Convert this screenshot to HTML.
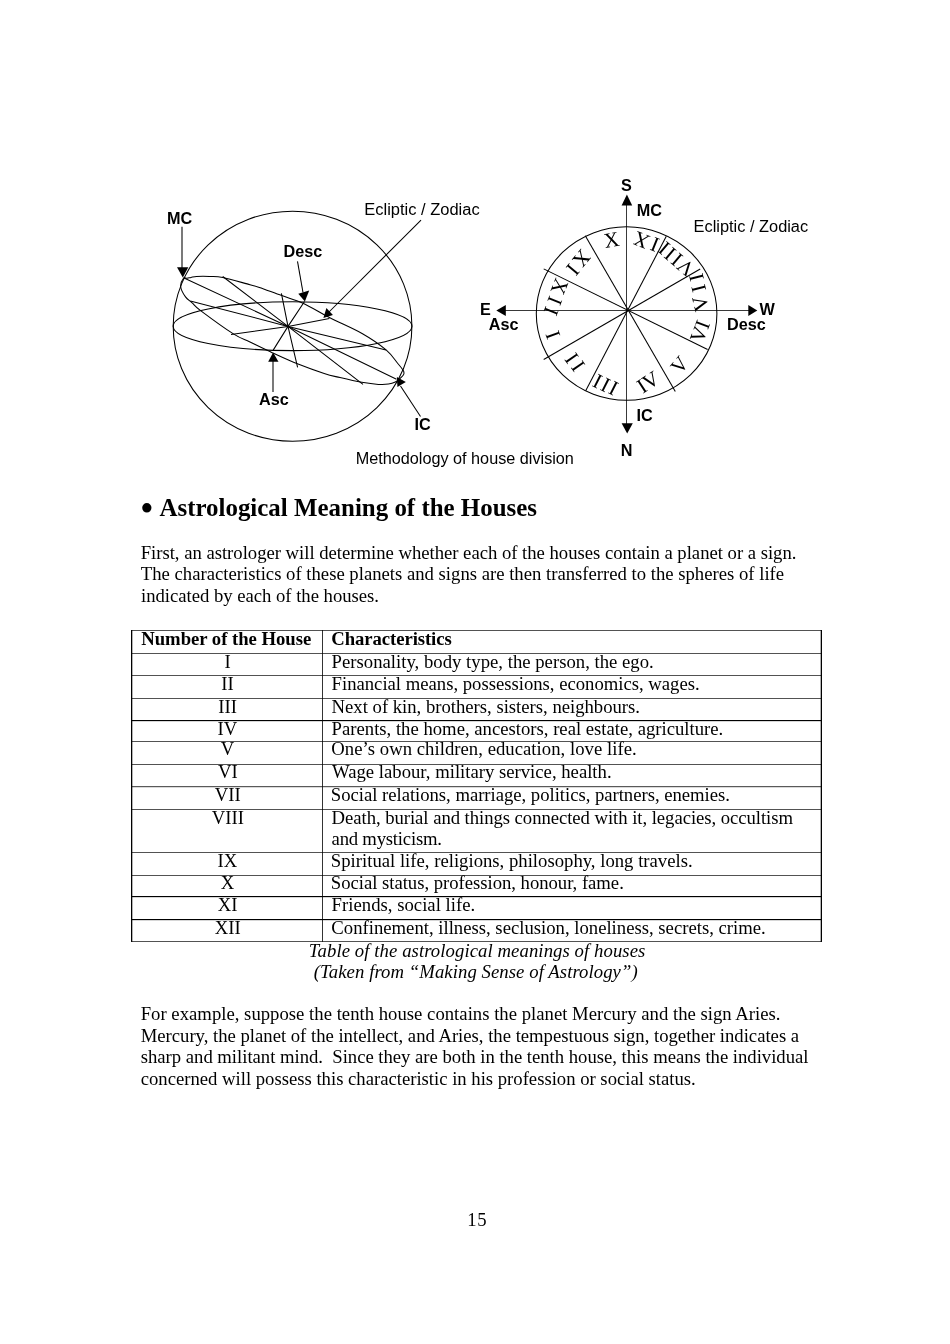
<!DOCTYPE html>
<html lang="en"><head><meta charset="utf-8"><title>Astrological Meaning of the Houses</title>
<style>
html,body{margin:0;padding:0;background:#fff;}
body{width:950px;height:1344px;position:relative;overflow:hidden;will-change:transform;font-family:"Liberation Serif","Times New Roman",serif;color:#000;}
.l{position:absolute;white-space:pre;font-size:18.69px;line-height:22px;height:22px;margin:0;}
.h{position:absolute;white-space:pre;font-weight:bold;font-size:24.9px;line-height:30px;height:30px;margin:0;}
.bu{position:absolute;white-space:pre;font-size:39px;line-height:30px;height:30px;}
.b{font-weight:bold;}.i{font-style:italic;}
.c{text-align:center;}
svg{position:absolute;left:0;top:0;}
svg text{font-family:"Liberation Sans",Arial,sans-serif;fill:#000;}
svg .r{font-family:"Liberation Serif","Times New Roman",serif;font-size:21px;text-anchor:middle;}
svg .bd{font-weight:bold;}
</style></head><body>
<svg width="950" height="480" viewBox="0 0 950 480">
<g fill="none" stroke="#000" stroke-width="1.05">
<ellipse cx="292.55" cy="326.2" rx="119.35" ry="115.05"/>
<ellipse cx="292.55" cy="326.2" rx="119.35" ry="24.4"/>
<path d="M183.5 278.2C184.6 276.8 185.8 278.3 187.0 278.2C188.2 278.1 189.4 277.7 191.0 277.4C192.6 277.1 194.5 276.6 196.5 276.4C198.5 276.2 200.8 276.2 203.0 276.2C205.2 276.2 206.7 276.3 210.0 276.5C213.3 276.7 216.1 276.1 222.8 277.5C229.5 278.9 243.9 283.1 250.0 284.7C256.1 286.3 254.1 285.6 259.4 287.4C264.7 289.2 274.4 293.0 281.7 295.6C289.0 298.2 295.1 299.6 303.0 303.2C310.9 306.8 319.5 312.4 329.4 317.5C339.3 322.6 353.1 328.3 362.5 333.7C371.9 339.1 380.2 344.9 386.1 349.9C392.0 354.9 394.9 360.1 397.8 363.5C400.7 366.9 402.3 368.8 403.3 370.6C404.3 372.4 404.2 373.1 403.7 374.4C403.2 375.7 401.7 376.9 400.3 378.2C398.9 379.5 397.3 381.0 395.3 382.0C393.3 383.0 391.3 383.7 388.5 384.1C385.7 384.5 382.8 384.7 378.4 384.4C373.9 384.1 368.2 383.4 361.8 382.3C355.4 381.2 346.3 379.1 340.0 377.6C333.7 376.1 331.3 375.8 324.2 373.5C317.1 371.2 306.0 367.2 297.4 363.8C288.8 360.4 280.6 356.5 272.7 352.9C264.8 349.3 256.6 345.2 250.0 342.0C243.4 338.8 241.6 339.1 233.4 333.9C225.2 328.7 207.4 315.7 200.6 310.6C193.8 305.5 194.9 305.4 192.4 303.1C189.9 300.8 187.4 299.6 185.5 296.9C183.6 294.2 181.0 289.8 180.7 286.7C180.4 283.6 182.4 279.6 183.5 278.2Z"/>
<path d="M183.5 277.8 L288.0 326.4 L396.5 379.3"/>
<path d="M222.7 276.5 L288.0 326.4 L363.0 384.4"/>
<path d="M190.3 301.0 L288.0 326.4 L386.1 349.9"/>
<path d="M231.0 334.5 L288.0 326.4 L329.4 318.4"/>
<path d="M272.9 350.6 L288.0 326.4 L304.5 301.5"/>
<path d="M281.4 293.4 L288.0 326.4 L297.6 367.3"/>
<path d="M182.0 226.8V268"/>
<path d="M297.5 261.3L303 292.5"/>
<path d="M273.0 391.9V361"/>
<path d="M421 220.1L329 312"/>
<path d="M420.5 416.5L400.5 386"/>
<ellipse cx="626.6" cy="313.55" rx="90.3" ry="86.7"/>
<path d="M505 310.5H749" stroke-width="0.78"/>
<path d="M626.5 205V424" stroke-width="0.78"/>
<path d="M585.3 235.8 L675.3 391.6"/>
<path d="M543.7 268.9 L707.6 349.5"/>
<path d="M666.3 236.2 L585.7 390.7"/>
<path d="M700.2 269.0 L543.7 359.5"/>
</g>
<g fill="#000" stroke="none">
<path d="M177.0 267.3 L188.3 267.3 L182.8 277.6 Z"/>
<path d="M298.3 293.7 L309.2 290.6 L304.9 301.5 Z"/>
<path d="M268.2 361.8 L278.5 361.8 L273.1 352.4 Z"/>
<path d="M323.4 318.0 L326.4 307.9 L332.9 314.9 Z"/>
<path d="M396.9 376.9 L405.8 382.0 L397.4 387.0 Z"/>
<path d="M621.6 205.4 L632.2 205.4 L626.9 194.5 Z"/>
<path d="M621.6 423.3 L632.8 423.3 L627.2 433.6 Z"/>
<path d="M505.8 305.0 L505.8 316.0 L496.3 310.5 Z"/>
<path d="M748.3 305.0 L748.3 316.0 L757.3 310.5 Z"/>
</g>
<text transform="translate(167.00 223.9) scale(1.040 1)" font-size="15.6" class="bd">MC</text>
<text transform="translate(283.54 256.9) scale(1.040 1)" font-size="15.6" class="bd">Desc</text>
<text transform="translate(259.08 404.8) scale(1.040 1)" font-size="15.6" class="bd">Asc</text>
<text transform="translate(414.58 429.9) scale(1.040 1)" font-size="15.6" class="bd">IC</text>
<text transform="translate(364.23 214.9) scale(1.057 1)" font-size="15.6">Ecliptic / Zodiac</text>
<text transform="translate(355.65 464.1) scale(1.041 1)" font-size="15.6">Methodology of house division</text>
<text transform="translate(620.89 190.7) scale(1.040 1)" font-size="15.6" class="bd">S</text>
<text transform="translate(636.85 215.5) scale(1.040 1)" font-size="15.6" class="bd">MC</text>
<text transform="translate(693.53 232.4) scale(1.050 1)" font-size="15.6">Ecliptic / Zodiac</text>
<text transform="translate(479.98 314.8) scale(1.040 1)" font-size="15.6" class="bd">E</text>
<text transform="translate(488.78 329.8) scale(1.040 1)" font-size="15.6" class="bd">Asc</text>
<text transform="translate(759.61 314.7) scale(1.040 1)" font-size="15.6" class="bd">W</text>
<text transform="translate(727.04 329.8) scale(1.040 1)" font-size="15.6" class="bd">Desc</text>
<text transform="translate(636.58 420.8) scale(1.040 1)" font-size="15.6" class="bd">IC</text>
<text transform="translate(620.63 455.6) scale(1.040 1)" font-size="15.6" class="bd">N</text>
<text class="r" transform="translate(553.0 335.0) rotate(70)" x="0.0" y="7.0">I</text>
<text class="r" transform="translate(571.8 358.1) rotate(55)" x="0.0 10.2" y="7.0 6.2">II</text>
<text class="r" transform="translate(597.5 381.2) rotate(27)" x="0.0 8.9 17.5" y="7.0 6.5 5.8">III</text>
<text class="r" transform="translate(641.8 386.3) rotate(-33)" x="0.0 10.8" y="7.0 6.8">IV</text>
<text class="r" transform="translate(679.5 364.9) rotate(-50)" x="0.0" y="7.0">V</text>
<text class="r" transform="translate(698.8 334.4) rotate(-69)" x="0.0 10.6" y="7.0 6.9">VI</text>
<text class="r" transform="translate(700.4 303.5) rotate(-104)" x="-0.0 15.1 26.4" y="7.0 8.8 9.5">VII</text>
<text class="r" transform="translate(685.7 267.6) rotate(-140)" x="-0.0 12.0 20.8 29.1" y="7.0 7.3 7.4 7.9">VIII</text>
<text class="r" transform="translate(654.8 244.5) rotate(-158)" x="-0.0 14.1" y="7.0 6.0">IX</text>
<text class="r" transform="translate(611.6 239.7) rotate(-10)" x="0.0" y="7.0">X</text>
<text class="r" transform="translate(581.8 258.5) rotate(130)" x="0.0 14.2" y="7.0 6.6">XI</text>
<text class="r" transform="translate(559.6 286.7) rotate(112)" x="0.0 14.6 25.8" y="7.0 6.2 5.7">XII</text>
</svg>
<div class="bu" style="left:140.0px;top:494.4px">•</div>
<h2 class="h" style="left:159.45px;top:493px;letter-spacing:0.017px">Astrological Meaning of the Houses</h2>
<div class="l" style="left:140.70px;top:542px;letter-spacing:-0.020px">First, an astrologer will determine whether each of the houses contain a planet or a sign.</div>
<div class="l" style="left:140.85px;top:563px;letter-spacing:-0.002px">The characteristics of these planets and signs are then transferred to the spheres of life</div>
<div class="l" style="left:141.00px;top:585px;letter-spacing:-0.023px">indicated by each of the houses.</div>
<svg width="950" height="330" viewBox="0 620 950 330" style="top:620px"><g fill="#000">
<rect x="131" y="630.16" width="691" height="0.68"/>
<rect x="131" y="653.16" width="691" height="0.68"/>
<rect x="131" y="675.16" width="691" height="0.68"/>
<rect x="131" y="698.16" width="691" height="0.68"/>
<rect x="131" y="720" width="691" height="1.16"/>
<rect x="131" y="741.16" width="691" height="0.68"/>
<rect x="131" y="764.16" width="691" height="0.68"/>
<rect x="131" y="786.35" width="691" height="0.8"/>
<rect x="131" y="809.16" width="691" height="0.68"/>
<rect x="131" y="852.16" width="691" height="0.68"/>
<rect x="131" y="875.16" width="691" height="0.68"/>
<rect x="131" y="896" width="691" height="1.16"/>
<rect x="131" y="919" width="691" height="1.16"/>
<rect x="131" y="941.16" width="691" height="0.68"/>
<rect x="131" y="630" width="1.3" height="311.9"/>
<rect x="820.7" y="630" width="1.3" height="311.9"/>
<rect x="322.1" y="630" width="0.8" height="311.9"/>
</g></svg>
<div class="l b" style="left:141.25px;top:628px;letter-spacing:-0.025px">Number of the House</div>
<div class="l b" style="left:331.30px;top:628px;letter-spacing:-0.071px">Characteristics</div>
<div class="l" style="left:224.47px;top:651px">I</div>
<div class="l" style="left:331.60px;top:651px;letter-spacing:0.013px">Personality, body type, the person, the ego.</div>
<div class="l" style="left:221.35px;top:673px">II</div>
<div class="l" style="left:331.60px;top:673px;letter-spacing:-0.010px">Financial means, possessions, economics, wages.</div>
<div class="l" style="left:218.22px;top:696px">III</div>
<div class="l" style="left:331.60px;top:696px;letter-spacing:-0.010px">Next of kin, brothers, sisters, neighbours.</div>
<div class="l" style="left:217.47px;top:718px">IV</div>
<div class="l" style="left:331.60px;top:718px;letter-spacing:-0.002px">Parents, the home, ancestors, real estate, agriculture.</div>
<div class="l" style="left:220.85px;top:738px">V</div>
<div class="l" style="left:331.35px;top:738px;letter-spacing:0.030px">One’s own children, education, love life.</div>
<div class="l" style="left:217.97px;top:761px">VI</div>
<div class="l" style="left:332.10px;top:761px;letter-spacing:-0.001px">Wage labour, military service, health.</div>
<div class="l" style="left:214.85px;top:784px">VII</div>
<div class="l" style="left:330.85px;top:784px;letter-spacing:-0.029px">Social relations, marriage, politics, partners, enemies.</div>
<div class="l" style="left:211.72px;top:807px">VIII</div>
<div class="l" style="left:331.60px;top:807px;letter-spacing:-0.049px">Death, burial and things connected with it, legacies, occultism</div>
<div class="l" style="left:331.55px;top:828px;letter-spacing:-0.212px">and mysticism.</div>
<div class="l" style="left:217.47px;top:850px">IX</div>
<div class="l" style="left:330.85px;top:850px;letter-spacing:0.004px">Spiritual life, religions, philosophy, long travels.</div>
<div class="l" style="left:220.72px;top:872px">X</div>
<div class="l" style="left:330.85px;top:872px;letter-spacing:-0.028px">Social status, profession, honour, fame.</div>
<div class="l" style="left:217.85px;top:894px">XI</div>
<div class="l" style="left:331.60px;top:894px;letter-spacing:0.020px">Friends, social life.</div>
<div class="l" style="left:214.72px;top:917px">XII</div>
<div class="l" style="left:331.35px;top:917px">Confinement, illness, seclusion, loneliness, secrets, crime.</div>
<div class="l i" style="left:308.80px;top:940px;letter-spacing:0.085px">Table of the astrological meanings of houses</div>
<div class="l i" style="left:313.75px;top:961px;letter-spacing:0.076px">(Taken from “Making Sense of Astrology”)</div>
<div class="l" style="left:140.70px;top:1003px;letter-spacing:0.012px">For example, suppose the tenth house contains the planet Mercury and the sign Aries.</div>
<div class="l" style="left:140.70px;top:1025px;letter-spacing:-0.011px">Mercury, the planet of the intellect, and Aries, the tempestuous sign, together indicates a</div>
<div class="l" style="left:140.75px;top:1046px;letter-spacing:-0.020px">sharp and militant mind.  Since they are both in the tenth house, this means the individual</div>
<div class="l" style="left:140.75px;top:1068px;letter-spacing:-0.011px">concerned will possess this characteristic in his profession or social status.</div>
<div class="l" style="left:467.30px;top:1209px;letter-spacing:0.600px">15</div>
</body></html>
